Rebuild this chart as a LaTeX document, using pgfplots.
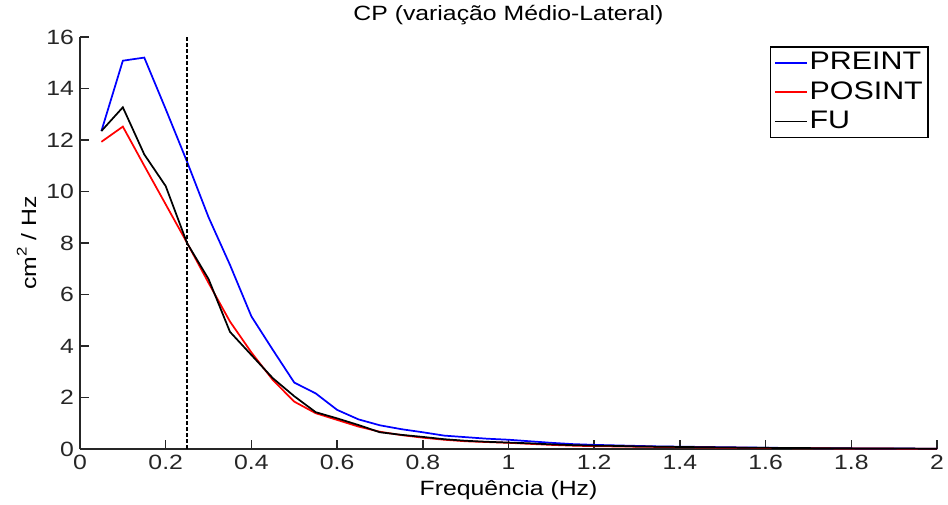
\documentclass[border=0pt]{standalone}
\usepackage{fontspec}
\setmainfont{Liberation Sans}[FakeStretch=1.2]
\usepackage{pgfplots}
\pgfplotsset{compat=1.18}
\begin{document}
\begin{tikzpicture}
\begin{axis}[
  at={(0,0)}, anchor=south west,
  scale only axis,
  width=642.75pt, height=309pt,
  xmin=0, xmax=2, ymin=0, ymax=16,
  axis lines*=left,
  axis line style={-, line width=1.1pt, black!85},
  tick style={line width=1.1pt, black!85},
  tick align=inside,
  major tick length=6.75pt,
  xtick={0,0.2,...,2.01},
  ytick={0,2,...,16},
  /pgf/number format/assume math mode=true,
  /pgf/number format/fixed,
  ticklabel style={font=\fontsize{15.5}{18}\selectfont, text=black!85},
  xticklabel style={yshift=-1pt},
  yticklabel style={xshift=-1pt},
  title={CP (variação Médio-Lateral)},
  title style={at={(axis description cs:0.5,1)}, anchor=base, yshift=6pt, inner sep=0pt, font=\fontsize{15.5}{18}\selectfont},
  xlabel={Frequência (Hz)},
  xlabel style={at={(axis description cs:0.5,0)}, anchor=base, yshift=-35pt, inner sep=0pt, font=\fontsize{15.5}{18}\selectfont},
  ylabel={cm\raisebox{0.45em}{\fontsize{10.5}{12}\selectfont 2} / Hz},
  ylabel style={at={(axis description cs:-0.0513,0.5)}, anchor=base, inner sep=0pt, font=\fontsize{15.5}{18}\selectfont},
  legend style={at={(axis description cs:1,1)}, anchor=north east, xshift=-6pt, yshift=-6.75pt,
    draw=black, line width=1.3pt, inner xsep=2.5pt, inner ysep=1.75pt,
    font=\fontsize{19}{21}\selectfont, row sep=1.5pt,
    nodes={text height=13.5pt, text depth=3pt, inner ysep=2pt, inner xsep=1.5pt}},
  legend cell align=left,
  legend image code/.code={\draw[#1] (0pt,0pt) -- (24pt,0pt);},
]
\addlegendimage{blue, line width=1.3pt}
\addlegendentry{PREINT}
\addlegendimage{red, line width=1.3pt}
\addlegendentry{POSINT}
\addlegendimage{black, line width=1.3pt}
\addlegendentry{FU}
\addplot[blue, line width=1.3pt, forget plot] coordinates {
(0.05,12.35) (0.10,15.08) (0.15,15.2) (0.20,13.2) (0.25,11.15) (0.30,9.0)
(0.35,7.15) (0.40,5.15) (0.45,3.85) (0.50,2.58) (0.55,2.16) (0.60,1.52)
(0.65,1.15) (0.70,0.92) (0.75,0.77) (0.80,0.65) (0.85,0.52) (0.90,0.46)
(0.95,0.40) (1.00,0.36) (1.05,0.30) (1.10,0.24) (1.15,0.19) (1.20,0.16)
(1.25,0.14) (1.30,0.12) (1.35,0.10) (1.40,0.09) (1.45,0.08) (1.50,0.07)
(1.55,0.06) (1.60,0.05) (1.65,0.04) (1.70,0.035) (1.75,0.03) (1.80,0.025)
(1.85,0.02) (1.90,0.02) (1.95,0.015) (2.00,0.01)};
\addplot[red, line width=1.3pt, forget plot] coordinates {
(0.05,11.93) (0.10,12.52) (0.15,11.0) (0.20,9.5) (0.25,8.0) (0.30,6.45)
(0.35,4.95) (0.40,3.75) (0.45,2.68) (0.50,1.84) (0.55,1.39) (0.60,1.13)
(0.65,0.87) (0.70,0.67) (0.75,0.54) (0.80,0.44) (0.85,0.36) (0.90,0.30)
(0.95,0.27) (1.00,0.24) (1.05,0.20) (1.10,0.16) (1.15,0.13) (1.20,0.11)
(1.25,0.10) (1.30,0.09) (1.35,0.08) (1.40,0.07) (1.45,0.06) (1.50,0.05)
(1.55,0.045) (1.60,0.04) (1.65,0.035) (1.70,0.03) (1.75,0.025) (1.80,0.02)
(1.85,0.02) (1.90,0.015) (1.95,0.01) (2.00,0.01)};
\addplot[black, line width=1.3pt, forget plot] coordinates {
(0.05,12.35) (0.10,13.27) (0.15,11.44) (0.20,10.21) (0.25,7.99) (0.30,6.6)
(0.35,4.55) (0.40,3.65) (0.45,2.75) (0.50,2.05) (0.55,1.43) (0.60,1.19)
(0.65,0.93) (0.70,0.65) (0.75,0.55) (0.80,0.47) (0.85,0.38) (0.90,0.32)
(0.95,0.28) (1.00,0.25) (1.05,0.22) (1.10,0.18) (1.15,0.15) (1.20,0.13)
(1.25,0.12) (1.30,0.10) (1.35,0.09) (1.40,0.08) (1.45,0.07) (1.50,0.06)
(1.55,0.05) (1.60,0.045) (1.65,0.04) (1.70,0.035) (1.75,0.03) (1.80,0.025)
(1.85,0.02) (1.90,0.02) (1.95,0.015) (2.00,0.01)};
\addplot[black, line width=1.2pt, dash pattern=on 3pt off 1.5pt, forget plot] coordinates {(0.25,0) (0.25,16)};
\end{axis}
\pgfresetboundingbox
\path[use as bounding box] (-60pt,-41.25pt) rectangle (651pt,336.75pt);
\end{tikzpicture}
\end{document}
